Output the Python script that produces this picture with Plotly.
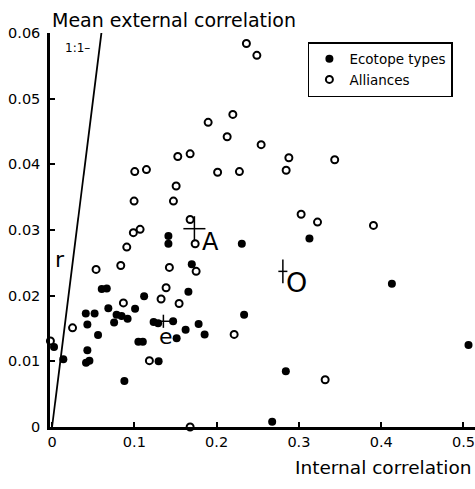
import plotly.graph_objects as go

# Alliances (open circles)
alliance_x = [0.2362, 0.2489, 0.2197, 0.1897, 0.2128, 0.2541, 0.2878, 0.3435, 0.1528, 0.1678,
              0.1005, 0.1147, 0.2012, 0.2277, 0.2845, 0.3906, 0.3027, 0.3226, 0.1508, 0.0997,
              0.1475, 0.1678, 0.1739, 0.0988, 0.1070, 0.0908, 0.0535, 0.0835, 0.1426, 0.1751,
              0.0867, 0.1325, 0.1386, 0.1544, 0.2213, 0.0249, -0.002, 0.1183, 0.1678, 0.3319]
alliance_y = [0.0584, 0.0566, 0.0476, 0.0464, 0.0442, 0.0430, 0.0410, 0.0407, 0.0412, 0.0416,
              0.0389, 0.0392, 0.0388, 0.0389, 0.0391, 0.0307, 0.0324, 0.0312, 0.0367, 0.0344,
              0.0344, 0.0316, 0.0279, 0.0296, 0.0301, 0.0274, 0.0240, 0.0246, 0.0243, 0.0237,
              0.0189, 0.0195, 0.0212, 0.0188, 0.0141, 0.0151, 0.0131, 0.0101, 0.0000, 0.0072]

# Ecotope types (filled circles)
ecotope_x = [0.2306, 0.3128, 0.4130, 0.2334, 0.5061, 0.2841, 0.2675, 0.1295, 0.0879, 0.0429,
             0.0413, 0.0454, 0.0137, 0.0024, 0.0429, 0.0559, 0.0754, 0.1049, 0.1103, 0.1234,
             0.1289, 0.1471, 0.1514, 0.1623, 0.1781, 0.1854, 0.1119, 0.1657, 0.0604, 0.0665,
             0.0410, 0.0517, 0.0684, 0.0784, 0.0845, 0.0918, 0.1009, 0.1414, 0.1414, 0.1698]
ecotope_y = [0.0279, 0.0287, 0.0218, 0.0171, 0.0125, 0.0085, 0.0008, 0.0100, 0.0070, 0.0117,
             0.0098, 0.0101, 0.0103, 0.0122, 0.0156, 0.0140, 0.0159, 0.0130, 0.0130, 0.0160,
             0.0158, 0.0161, 0.0135, 0.0148, 0.0157, 0.0141, 0.0199, 0.0206, 0.0210, 0.0211,
             0.0173, 0.0173, 0.0181, 0.0171, 0.0169, 0.0165, 0.0180, 0.0291, 0.0279, 0.0248]

# Group means with spread (crosses)
group_names = ["A", "e", "O"]
group_x = [0.1730, 0.1353, 0.2805]
group_y = [0.0302, 0.0161, 0.0237]
group_dx = [0.0134, 0.0091, 0.0055]
group_dy = [0.0019, 0.0010, 0.0018]
label_x = [0.1929, 0.1382, 0.2975]
label_y = [0.0281, 0.0138, 0.0220]
label_size = [24, 22, 27]

# 1:1 line
identity = [0.0, 0.06]

x_ticks = [0, 0.1, 0.2, 0.3, 0.4, 0.5]
x_tick_text = ["0", "0.1", "0.2", "0.3", "0.4", "0.5"]
y_ticks = [0, 0.01, 0.02, 0.03, 0.04, 0.05, 0.06]
y_tick_text = ["0", "0.01", "0.02", "0.03", "0.04", "0.05", "0.06"]

FONT = "DejaVu Sans"

fig = go.Figure()
fig.add_trace(go.Scatter(x=identity, y=identity, mode="lines",
                         line=dict(color="black", width=1.8), showlegend=False,
                         hoverinfo="skip"))
fig.add_trace(go.Scatter(x=ecotope_x, y=ecotope_y, mode="markers", name="Ecotope types",
                         marker=dict(symbol="circle", size=8, color="black"),
                         cliponaxis=False))
fig.add_trace(go.Scatter(x=alliance_x, y=alliance_y, mode="markers", name="Alliances",
                         marker=dict(symbol="circle", size=7, color="white",
                                     line=dict(color="black", width=2)),
                         cliponaxis=False))
fig.add_trace(go.Scatter(x=group_x, y=group_y, mode="markers", showlegend=False,
                         marker=dict(size=1, color="rgba(0,0,0,0)"),
                         error_x=dict(type="data", array=group_dx, color="black", thickness=1.5, width=0),
                         error_y=dict(type="data", array=group_dy, color="black", thickness=1.5, width=0),
                         cliponaxis=False))

for name, lx, ly, ls in zip(group_names, label_x, label_y, label_size):
    fig.add_annotation(x=lx, y=ly, text=name, showarrow=False,
                       font=dict(family=FONT, size=ls, color="black"),
                       xanchor="center", yanchor="middle")

fig.add_annotation(x=0.031, y=0.0577, text="1:1–", showarrow=False,
                   font=dict(family=FONT, size=12, color="black"),
                   xanchor="center", yanchor="middle")
fig.add_annotation(x=0.0097, y=0.0255, text="r", showarrow=False,
                   font=dict(family=FONT, size=22, color="black"),
                   xanchor="center", yanchor="middle")

fig.add_annotation(xref="paper", yref="paper", x=0.0, y=1.0, yshift=13,
                   text="Mean external correlation", showarrow=False,
                   font=dict(family=FONT, size=19, color="black"),
                   xanchor="left", yanchor="middle")
fig.add_annotation(xref="paper", yref="paper", x=0.995, y=0.0, yshift=-40,
                   text="Internal correlation", showarrow=False,
                   font=dict(family=FONT, size=18.5, color="black"),
                   xanchor="right", yanchor="middle")

fig.update_xaxes(range=[-0.0025, 0.514], tickvals=x_ticks, ticktext=x_tick_text,
                 showline=True, linecolor="black", linewidth=2.5, mirror=False,
                 ticks="inside", ticklen=5, tickwidth=1.5, tickcolor="black",
                 showgrid=False, zeroline=False, ticklabeloverflow="allow",
                 tickfont=dict(family=FONT, size=14.5, color="black"))
fig.update_yaxes(range=[0, 0.06], tickvals=y_ticks, ticktext=y_tick_text,
                 showline=True, linecolor="black", linewidth=2.5, mirror=False,
                 ticks="inside", ticklen=5, tickwidth=1.5, tickcolor="black",
                 showgrid=False, zeroline=False, ticklabelstandoff=4,
                 tickfont=dict(family=FONT, size=14.5, color="black"))

fig.update_layout(
    width=475, height=489,
    margin=dict(l=50, r=0, t=33, b=62),
    paper_bgcolor="white", plot_bgcolor="white",
    font=dict(family=FONT, color="black"),
    legend=dict(x=0.948, y=0.977, xanchor="right", yanchor="top",
                bordercolor="black", borderwidth=1.5, bgcolor="white",
                font=dict(family=FONT, size=13.5, color="black"),
                itemwidth=30, tracegroupgap=0),
    showlegend=True,
)

fig.write_html("out.html", config={"displayModeBar": False},
               post_script="document.body.style.margin='0';document.body.style.overflow='hidden';")
